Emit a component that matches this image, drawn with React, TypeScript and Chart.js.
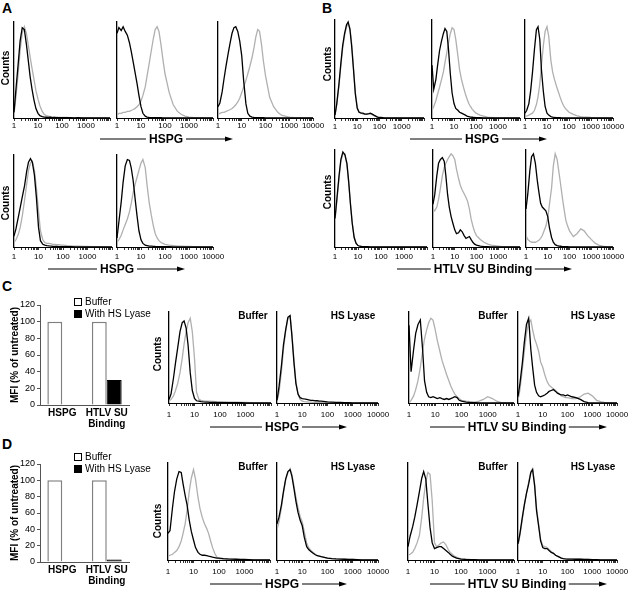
import React, { useEffect, useRef } from 'react';
import { Chart, registerables } from 'chart.js';

Chart.register(...registerables);

const FONT = '"Liberation Sans", Arial, Helvetica, sans-serif';

// Fluorescence bins (log scale)
const BINS = [1, 1.2, 1.5, 1.8, 2.2, 2.7, 3.3, 3.9, 4.7, 5.6, 6.8, 8.2, 10, 12, 15, 18, 22, 27, 33, 39, 47, 56, 68, 82, 100, 150, 220, 330, 470, 680, 1000, 1500, 2200, 3300, 4700, 6800, 10000];
const TICK_MARKS = [1, 2, 3, 4, 5, 6, 7, 8, 9, 10, 20, 30, 40, 50, 60, 70, 80, 90, 100, 200, 300, 400, 500, 600, 700, 800, 900, 1000, 2000, 3000, 4000, 5000, 6000, 7000, 8000, 9000, 10000];
const TICK_LABELS = [1, 10, 100, 1000];
const TICK_LABELS_LAST = [1, 10, 100, 1000, 10000];

// Panel A
const A1_BLACK = [6, 30, 58, 82, 96, 94, 78, 62, 44, 31, 19, 10, 5, 2.5, 1.5, 1, 0.8, 0.6, 0.8, 0.5, 0.6, 0.4, 0.5, 0.3, 0.4, 0.3, 0.3, 0.2, 0.3, 0.2, 0.2, 0.1, 0.1, 0, 0, 0, 0];
const A1_GRAY = [4, 22, 48, 72, 90, 97, 90, 78, 65, 53, 41, 29, 20, 13, 7, 4, 2.5, 2, 1.5, 1.2, 1, 1, 0.8, 0.7, 0.6, 0.6, 0.5, 0.5, 0.4, 0.4, 0.3, 0.3, 0.2, 0.2, 0.1, 0, 0];
const A2_BLACK = [90, 96, 93, 97, 92, 88, 80, 71, 60, 49, 37, 24, 12, 5, 2, 1, 0.6, 0.5, 0.4, 0.4, 0.3, 0.3, 0.3, 0.2, 0.2, 0.2, 0.2, 0.1, 0.1, 0.1, 0.1, 0, 0, 0, 0, 0, 0];
const A2_GRAY = [3, 5, 5, 6, 6, 7, 7, 8, 9, 10, 12, 14, 18, 24, 33, 45, 58, 72, 85, 94, 97, 92, 78, 62, 47, 27, 14, 7, 4, 2, 1, 0.6, 0.4, 0.3, 0.2, 0, 0];
const A3_BLACK = [12, 16, 28, 42, 56, 69, 81, 90, 96, 97, 92, 82, 66, 40, 15, 5, 2, 1, 0.6, 0.5, 0.4, 0.3, 0.3, 0.3, 0.2, 0.2, 0.2, 0.1, 0.1, 0.1, 0.1, 0, 0, 0, 0, 0, 0];
const A3_GRAY = [4, 5, 6, 6, 7, 8, 9, 10, 12, 14, 17, 21, 27, 33, 40, 47, 55, 64, 75, 86, 94, 92, 78, 60, 45, 22, 12, 6, 3, 2, 1, 0.6, 0.4, 0.3, 0.2, 0, 0];
const A4_BLACK = [12, 20, 33, 44, 56, 68, 84, 94, 98, 94, 80, 55, 22, 7, 3, 2, 1.5, 1.2, 1, 0.8, 0.7, 0.6, 0.5, 0.5, 0.4, 0.3, 0.3, 0.2, 0.2, 0.2, 0.2, 0.1, 0, 0, 0, 0, 0];
const A4_GRAY = [5, 8, 14, 22, 35, 52, 70, 85, 93, 95, 85, 66, 40, 18, 8, 5, 4, 4, 3.5, 3, 3, 2.5, 2.5, 2, 2, 1.5, 1.2, 1, 1, 0.8, 0.6, 0.4, 0.3, 0.2, 0.1, 0, 0];
const A5_BLACK = [10, 28, 50, 72, 90, 97, 96, 88, 74, 55, 35, 18, 8, 4, 2, 1.5, 1, 1, 0.8, 0.6, 0.5, 0.5, 0.4, 0.4, 0.3, 0.3, 0.2, 0.2, 0.2, 0.2, 0.2, 0.1, 0, 0, 0, 0, 0];
const A5_GRAY = [5, 8, 13, 19, 25, 31, 39, 48, 60, 69, 77, 85, 93, 97, 88, 68, 49, 35, 23, 15, 10, 7, 5, 4, 3, 2, 1.5, 1, 1, 0.8, 0.6, 0.4, 0.3, 0.2, 0.1, 0, 0];

// Panel B
const B1_BLACK = [3, 15, 35, 55, 75, 88, 97, 100, 92, 75, 50, 25, 10, 6, 5, 5, 4, 4, 4.5, 5, 4, 3, 2, 1, 0.5, 0.3, 0.2, 0.2, 0.2, 0.1, 0.1, 0, 0, 0, 0, 0, 0];
const B1_GRAY = [3, 14, 33, 52, 72, 86, 95, 98, 94, 78, 52, 27, 11, 7, 5, 4, 4, 4, 4, 4, 3.5, 2.5, 1.5, 1, 0.5, 0.3, 0.2, 0.2, 0.2, 0.1, 0.1, 0, 0, 0, 0, 0, 0];
const B2_BLACK = [55, 30, 40, 55, 70, 80, 88, 93, 90, 72, 46, 26, 15, 10, 8, 6, 5, 4, 3, 2, 1.5, 1, 0.8, 0.5, 0.4, 0.3, 0.2, 0.2, 0.1, 0.1, 0.1, 0, 0, 0, 0, 0, 0];
const B2_GRAY = [8, 12, 18, 25, 32, 40, 48, 58, 68, 78, 88, 94, 92, 82, 65, 50, 40, 32, 25, 20, 15, 12, 9, 7, 5, 3, 2, 1, 0.5, 0.3, 0.2, 0, 0, 0, 0, 0, 0];
const B3_BLACK = [5, 8, 15, 28, 48, 72, 92, 95, 82, 50, 28, 12, 5, 3, 1.5, 1, 0.5, 0.4, 0.3, 0.3, 0.2, 0.2, 0.2, 0.1, 0.1, 0.1, 0.1, 0, 0, 0, 0, 0, 0, 0, 0, 0, 0];
const B3_GRAY = [2, 2, 3, 4, 5, 8, 14, 22, 35, 55, 75, 90, 95, 85, 60, 48, 40, 33, 27, 22, 17, 13, 10, 8, 6, 4, 2.5, 1.5, 1, 0.8, 0.5, 0.3, 0.2, 0, 0, 0, 0];
const B4_BLACK = [30, 50, 75, 92, 100, 97, 88, 70, 45, 25, 10, 4, 1.5, 0.8, 0.5, 0.4, 0.3, 0.3, 0.2, 0.2, 0.2, 0.1, 0.1, 0.1, 0.1, 0, 0, 0, 0, 0, 0, 0, 0, 0, 0, 0, 0];
const B4_GRAY = [28, 48, 72, 90, 98, 98, 86, 68, 46, 26, 11, 4, 1.5, 0.8, 0.5, 0.4, 0.3, 0.3, 0.2, 0.2, 0.2, 0.1, 0.1, 0.1, 0.1, 0, 0, 0, 0, 0, 0, 0, 0, 0, 0, 0, 0];
const B5_BLACK = [45, 55, 75, 88, 92, 94, 90, 75, 55, 42, 32, 25, 18, 14, 15, 18, 16, 12, 9, 10, 11, 8, 5, 3, 2, 1, 0.5, 0.3, 0.2, 0.1, 0, 0, 0, 0, 0, 0, 0];
const B5_GRAY = [40, 38, 42, 50, 62, 75, 84, 88, 92, 95, 98, 96, 92, 82, 72, 65, 60, 56, 52, 48, 40, 30, 22, 16, 12, 8, 5, 3, 2, 1.5, 1, 0.5, 0.3, 0, 0, 0, 0];
const B6_BLACK = [40, 55, 80, 95, 98, 88, 70, 58, 46, 42, 40, 38, 32, 20, 10, 5, 2.5, 1.5, 1, 0.8, 0.5, 0.4, 0.3, 0.3, 0.2, 0.2, 0.1, 0.1, 0.1, 0, 0, 0, 0, 0, 0, 0, 0];
const B6_GRAY = [12, 8, 6, 5, 5, 5, 6, 7, 9, 12, 17, 22, 30, 45, 62, 85, 98, 92, 78, 66, 52, 40, 28, 22, 17, 11, 14, 19, 17, 12, 8, 4, 2, 1, 0.5, 0.2, 0];

// Panel C histograms
const C1_BLACK = [4, 10, 28, 45, 62, 80, 90, 92, 84, 65, 34, 14, 5, 2.5, 2, 1.5, 1.2, 1, 1, 0.8, 0.8, 0.7, 0.6, 0.5, 0.5, 0.4, 0.4, 0.3, 0.3, 0.3, 0.2, 0.2, 0.1, 0.1, 0, 0, 0];
const C1_GRAY = [2, 4, 8, 14, 22, 34, 50, 66, 80, 90, 95, 80, 50, 12, 4, 3, 2.5, 2, 2, 2, 1.8, 1.8, 1.5, 1.5, 1.5, 1.2, 1, 1, 1, 0.8, 0.8, 0.5, 0.3, 0.2, 0, 0, 0];
const C2_BLACK = [3, 18, 42, 65, 82, 96, 98, 75, 45, 22, 10, 6, 5, 4.5, 4, 3.5, 3, 3, 2.5, 2.5, 2, 2, 1.8, 1.5, 1.2, 1, 0.8, 0.6, 0.4, 0.3, 0.2, 0.1, 0, 0, 0, 0, 0];
const C2_GRAY = [2, 12, 35, 60, 80, 95, 97, 78, 48, 24, 10, 4, 2, 1.5, 1.2, 1, 1, 0.8, 0.8, 0.6, 0.6, 0.5, 0.5, 0.4, 0.4, 0.3, 0.3, 0.2, 0.2, 0.1, 0.1, 0, 0, 0, 0, 0, 0];
const C3_BLACK = [87, 35, 60, 78, 88, 93, 60, 25, 12, 7, 6, 7, 6, 5, 6, 5, 4, 5, 4, 5, 6, 7, 6, 3, 2, 1, 0.5, 0.3, 0.2, 0.2, 0.1, 0, 0, 0, 0, 0, 0];
const C3_GRAY = [0, 3, 8, 15, 25, 40, 58, 72, 82, 90, 95, 93, 82, 70, 58, 48, 40, 32, 25, 19, 14, 10, 7, 5, 3, 2, 1.5, 1, 2, 4, 7, 5, 2, 0.5, 0, 0, 0];
const C4_BLACK = [7, 22, 45, 68, 88, 95, 60, 40, 20, 12, 8, 7, 8, 9, 11, 13, 14, 15, 13, 11, 10, 9, 9, 8, 9, 7, 6, 4, 1.5, 0.5, 0.2, 0, 0, 0, 0, 0, 0];
const C4_GRAY = [3, 15, 38, 58, 78, 90, 93, 82, 72, 66, 58, 46, 40, 32, 24, 20, 18, 16, 14, 12, 10, 8, 7, 6, 6, 5, 5, 7, 10, 11, 8, 3, 1.5, 0.5, 0.2, 0, 0];

// Panel D histograms
const D1_BLACK = [28, 31, 55, 72, 85, 93, 92, 80, 68, 58, 42, 30, 21, 13, 8, 6, 5, 5, 4.5, 4, 3.5, 3, 2.5, 2, 2, 1.5, 1.2, 1, 0.8, 0.6, 0.5, 0.3, 0.2, 0.1, 0, 0, 0];
const D1_GRAY = [4, 5, 6, 8, 10, 14, 20, 28, 38, 52, 72, 86, 95, 85, 66, 54, 45, 38, 33, 28, 20, 13, 7, 3, 1.5, 1, 0.8, 0.6, 0.5, 0.4, 0.3, 0.2, 0.1, 0, 0, 0, 0];
const D2_BLACK = [38, 45, 58, 72, 85, 93, 95, 88, 75, 62, 50, 42, 36, 24, 14, 11, 9, 7, 5.5, 4.5, 4, 3.5, 3, 2.5, 2, 1.5, 1.2, 1, 0.8, 0.6, 0.5, 0.3, 0.2, 0.1, 0, 0, 0];
const D2_GRAY = [32, 40, 55, 70, 84, 92, 96, 90, 78, 66, 55, 46, 40, 30, 18, 13, 10, 8, 6, 5, 4, 3.5, 3, 2.5, 2, 1.5, 1.2, 1, 0.8, 0.6, 0.5, 0.3, 0.2, 0.1, 0, 0, 0];
const D3_BLACK = [14, 25, 35, 45, 58, 72, 86, 93, 85, 60, 34, 18, 12, 13, 14, 14, 12, 10, 8, 6, 4, 3, 2, 1.5, 1, 0.6, 0.4, 0.3, 0.2, 0.1, 0.1, 0, 0, 0, 0, 0, 0];
const D3_GRAY = [5, 6, 8, 12, 18, 26, 45, 65, 82, 92, 90, 62, 18, 14, 16, 18, 19, 16, 11, 8, 6, 4, 3, 2, 1.5, 1, 0.6, 0.4, 0.3, 0.2, 0.1, 0, 0, 0, 0, 0, 0];
const D4_BLACK = [17, 28, 45, 58, 70, 80, 92, 95, 78, 52, 36, 20, 13, 12, 12, 10, 8, 7, 5, 4, 3, 2, 1.5, 1.2, 1, 1, 0.8, 0.8, 0.6, 0.5, 0.4, 0.3, 0.2, 0.1, 0, 0, 0];
const D4_GRAY = [15, 26, 43, 57, 70, 82, 93, 96, 80, 55, 38, 22, 15, 14, 13, 11, 9, 7, 5, 4, 3, 2, 1.5, 1.2, 1, 1, 0.8, 0.8, 0.6, 0.5, 0.4, 0.3, 0.2, 0.1, 0, 0, 0];

// Bar charts (MFI, % of untreated)
const BAR_CATEGORIES = ['HSPG', ['HTLV SU', 'Binding']];
const C_BUFFER = [100, 100];
const C_LYASE = [0, 30];
const D_BUFFER = [100, 100];
const D_LYASE = [0, 3];
const LEGEND_LABELS = ['Buffer', 'With HS Lyase'];

type HistProps = {
  x0: number; x1: number; yt: number; yb: number;
  black: number[]; gray: number[]; last?: boolean; tickPad?: number;
};

function Hist({ x0, x1, yt, yb, black, gray, last, tickPad = 2 }: HistProps) {
  const ref = useRef<HTMLCanvasElement | null>(null);
  const PL = 8, PR = 16, PT = 4, XH = 18;
  const w = x1 - x0 + PL + PR;
  const h = yb - yt + PT + XH;
  useEffect(() => {
    const labels = last ? TICK_LABELS_LAST : TICK_LABELS;
    const chart = new Chart(ref.current as HTMLCanvasElement, {
      type: 'line',
      data: {
        datasets: [
          { data: black.map((v, i) => ({ x: BINS[i], y: v })), borderColor: '#000', borderWidth: 1.3, pointRadius: 0, tension: 0 },
          { data: gray.map((v, i) => ({ x: BINS[i], y: v })), borderColor: '#b0b0b0', borderWidth: 1.3, pointRadius: 0, tension: 0 },
        ],
      },
      options: {
        responsive: false,
        animation: false,
        events: [],
        layout: { padding: { left: PL, right: PR, top: PT, bottom: 0 } },
        plugins: { legend: { display: false }, tooltip: { enabled: false } },
        scales: {
          x: {
            type: 'logarithmic',
            min: 1,
            max: 10000,
            afterBuildTicks: (s: any) => { s.ticks = TICK_MARKS.map((v) => ({ value: v })); },
            afterFit: (s: any) => { s.height = XH; },
            ticks: {
              autoSkip: false, maxRotation: 0, minRotation: 0, padding: tickPad, color: '#000',
              font: { family: FONT, size: 8 },
              callback: (v: any) => (labels.includes(Number(v)) ? String(v) : ''),
            },
            grid: { display: true, drawOnChartArea: false, tickLength: 3, color: '#000', lineWidth: 0.8 },
            border: { display: true, color: '#000', width: 1 },
          },
          y: {
            min: 0,
            max: 102,
            afterFit: (s: any) => { s.width = 0; },
            ticks: { display: false },
            grid: { display: false },
            border: { display: true, color: '#000', width: 1.3 },
          },
        },
      },
    } as any);
    return () => chart.destroy();
  }, []);
  return (
    <canvas ref={ref} width={w} height={h}
      style={{ position: 'absolute', left: x0 - PL, top: yt - PT, width: w, height: h }} />
  );
}

function MfiBar({ yt, yb, buffer, lyase }: { yt: number; yb: number; buffer: number[]; lyase: number[] }) {
  const ref = useRef<HTMLCanvasElement | null>(null);
  const PT = 8, XH = 28, W = 140, LEFT = 40, RIGHT = 129;
  const h = yb - yt + PT + XH;
  useEffect(() => {
    const chart = new Chart(ref.current as HTMLCanvasElement, {
      type: 'bar',
      data: {
        labels: BAR_CATEGORIES,
        datasets: [
          { label: LEGEND_LABELS[0], data: buffer, backgroundColor: '#fff', borderColor: '#808080', borderWidth: 1.5, categoryPercentage: 0.67, barPercentage: 1 },
          { label: LEGEND_LABELS[1], data: lyase, backgroundColor: '#000', borderColor: '#000', borderWidth: 1, categoryPercentage: 0.67, barPercentage: 1 },
        ],
      },
      options: {
        responsive: false,
        animation: false,
        events: [],
        layout: { padding: { left: 0, right: W - RIGHT, top: PT, bottom: 0 } },
        plugins: { legend: { display: false }, tooltip: { enabled: false } },
        scales: {
          x: {
            afterFit: (s: any) => { s.height = XH; },
            grid: { display: false, drawTicks: false, tickLength: 0 },
            border: { display: true, color: '#555', width: 1 },
            ticks: {
              autoSkip: false, maxRotation: 0, minRotation: 0,
              color: '#000', padding: 3, font: { family: FONT, size: 10, weight: 'bold', lineHeight: 1.05 },
            },
          },
          y: {
            min: 0, max: 120,
            afterFit: (s: any) => { s.width = LEFT; },
            ticks: { stepSize: 20, color: '#000', padding: 2, font: { family: FONT, size: 9 } },
            grid: { display: true, drawOnChartArea: false, tickLength: 3, color: '#555' },
            border: { display: true, color: '#555', width: 1 },
            title: { display: true, text: 'MFI (% of untreated)', color: '#000', padding: { top: 9, bottom: 0 }, font: { family: FONT, size: 10, weight: 'bold' } },
          },
        },
      },
    } as any);
    return () => chart.destroy();
  }, []);
  return (
    <canvas ref={ref} width={W} height={h}
      style={{ position: 'absolute', left: 0, top: yt - PT, width: W, height: h }} />
  );
}

function Txt({ x, y, size = 10, bold = true, children, rotate = false }: any) {
  return (
    <div style={{
      position: 'absolute', left: x, top: y, whiteSpace: 'nowrap', lineHeight: 1,
      fontSize: size, fontWeight: bold ? 'bold' : 'normal', color: '#000',
      transform: `translate(-50%, -50%)${rotate ? ' rotate(-90deg)' : ''}`,
    }}>{children}</div>
  );
}

function AxisArrow({ x1, x2, y, cx, text }: { x1: number; x2: number; y: number; cx: number; text: string }) {
  const L = x2 - x1;
  return (
    <>
      <svg style={{ position: 'absolute', left: x1, top: y - 4, overflow: 'visible' }} width={L} height={8}>
        <line x1={0} y1={4} x2={L - 4} y2={4} stroke="#000" strokeWidth={1} />
        <polygon points={`${L - 8},1.5 ${L},4 ${L - 8},6.5`} fill="#000" />
      </svg>
      <div style={{
        position: 'absolute', left: cx, top: y, transform: 'translate(-50%, -50%)', background: '#fff',
        padding: '0 3px', fontWeight: 'bold', fontSize: 12, lineHeight: 1, whiteSpace: 'nowrap',
      }}>{text}</div>
    </>
  );
}

function Legend({ x, y }: { x: number; y: number }) {
  const box = (fill: string) => ({
    display: 'inline-block', width: 6, height: 6, border: '1px solid #000', background: fill, marginRight: 3,
  });
  return (
    <div style={{ position: 'absolute', left: x, top: y, fontSize: 10, lineHeight: '12px', whiteSpace: 'nowrap' }}>
      <div style={{ display: 'flex', alignItems: 'center' }}><span style={box('#fff')} />{LEGEND_LABELS[0]}</div>
      <div style={{ display: 'flex', alignItems: 'center' }}><span style={box('#000')} />{LEGEND_LABELS[1]}</div>
    </div>
  );
}

export default function App() {
  return (
    <div style={{ position: 'absolute', left: 0, top: 0, width: 632, height: 590, background: '#fff', fontFamily: FONT, overflow: 'hidden' }}>
      {/* Panel letters */}
      <Txt x={7} y={8} size={14}>A</Txt>
      <Txt x={327} y={8} size={14}>B</Txt>
      <Txt x={7} y={286} size={14}>C</Txt>
      <Txt x={7} y={444} size={14}>D</Txt>

      {/* Panel A */}
      <Hist x0={14} x1={110} yt={22} yb={118} black={A1_BLACK} gray={A1_GRAY} tickPad={0} />
      <Hist x0={117} x1={213} yt={22} yb={118} black={A2_BLACK} gray={A2_GRAY} tickPad={0} />
      <Hist x0={218} x1={313} yt={22} yb={118} black={A3_BLACK} gray={A3_GRAY} last tickPad={0} />
      <Hist x0={14} x1={112} yt={155} yb={247} black={A4_BLACK} gray={A4_GRAY} tickPad={2} />
      <Hist x0={117} x1={213} yt={155} yb={247} black={A5_BLACK} gray={A5_GRAY} last tickPad={2} />
      <Txt x={6} y={68} rotate>Counts</Txt>
      <Txt x={6} y={203} rotate>Counts</Txt>
      <AxisArrow x1={100} x2={233} y={139} cx={166} text="HSPG" />
      <AxisArrow x1={48} x2={185} y={269} cx={117} text="HSPG" />

      {/* Panel B */}
      <Hist x0={335} x1={424} yt={20} yb={118} black={B1_BLACK} gray={B1_GRAY} tickPad={1} />
      <Hist x0={432} x1={520} yt={20} yb={118} black={B2_BLACK} gray={B2_GRAY} tickPad={1} />
      <Hist x0={525} x1={613} yt={20} yb={118} black={B3_BLACK} gray={B3_GRAY} last tickPad={1} />
      <Hist x0={335} x1={427} yt={150} yb={247} black={B4_BLACK} gray={B4_GRAY} tickPad={2} />
      <Hist x0={433} x1={520} yt={150} yb={247} black={B5_BLACK} gray={B5_GRAY} tickPad={2} />
      <Hist x0={526} x1={613} yt={150} yb={247} black={B6_BLACK} gray={B6_GRAY} last tickPad={2} />
      <Txt x={328} y={64} rotate>Counts</Txt>
      <Txt x={328} y={192} rotate>Counts</Txt>
      <AxisArrow x1={410} x2={547} y={139} cx={482} text="HSPG" />
      <AxisArrow x1={397} x2={572} y={269} cx={483} text="HTLV SU Binding" />

      {/* Panel C */}
      <MfiBar yt={305} yb={405} buffer={C_BUFFER} lyase={C_LYASE} />
      <Legend x={74} y={296} />
      <Hist x0={169} x1={271} yt={312} yb={403} black={C1_BLACK} gray={C1_GRAY} tickPad={4} />
      <Hist x0={277} x1={378} yt={312} yb={403} black={C2_BLACK} gray={C2_GRAY} last tickPad={4} />
      <Hist x0={409} x1={514} yt={312} yb={403} black={C3_BLACK} gray={C3_GRAY} tickPad={4} />
      <Hist x0={518} x1={617} yt={312} yb={403} black={C4_BLACK} gray={C4_GRAY} last tickPad={4} />
      <Txt x={158} y={354} rotate>Counts</Txt>
      <Txt x={253} y={316}>Buffer</Txt>
      <Txt x={353} y={316}>HS Lyase</Txt>
      <Txt x={493} y={316}>Buffer</Txt>
      <Txt x={593} y={316}>HS Lyase</Txt>
      <AxisArrow x1={210} x2={347} y={427} cx={282} text="HSPG" />
      <AxisArrow x1={430} x2={607} y={427} cx={517} text="HTLV SU Binding" />

      {/* Panel D */}
      <MfiBar yt={464} yb={562} buffer={D_BUFFER} lyase={D_LYASE} />
      <Legend x={74} y={451} />
      <Hist x0={168} x1={270} yt={463} yb={560} black={D1_BLACK} gray={D1_GRAY} tickPad={4} />
      <Hist x0={277} x1={378} yt={463} yb={560} black={D2_BLACK} gray={D2_GRAY} last tickPad={4} />
      <Hist x0={408} x1={514} yt={463} yb={560} black={D3_BLACK} gray={D3_GRAY} tickPad={4} />
      <Hist x0={518} x1={617} yt={463} yb={560} black={D4_BLACK} gray={D4_GRAY} last tickPad={4} />
      <Txt x={158} y={521} rotate>Counts</Txt>
      <Txt x={253} y={467}>Buffer</Txt>
      <Txt x={353} y={467}>HS Lyase</Txt>
      <Txt x={493} y={467}>Buffer</Txt>
      <Txt x={593} y={467}>HS Lyase</Txt>
      <AxisArrow x1={210} x2={347} y={584} cx={282} text="HSPG" />
      <AxisArrow x1={430} x2={607} y={584} cx={517} text="HTLV SU Binding" />
    </div>
  );
}
